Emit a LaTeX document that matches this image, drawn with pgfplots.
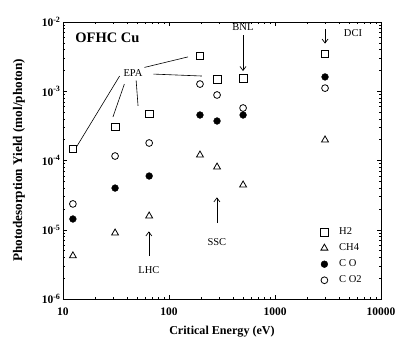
\documentclass[border=0pt]{standalone}
\usepackage{fontspec}
\setmainfont{Liberation Serif}
\usepackage{pgfplots}
\pgfplotsset{compat=1.18}
\usetikzlibrary{arrows.meta}
\begin{document}
\begin{tikzpicture}
\begin{axis}[
  xmode=log, ymode=log,
  scale only axis, width=318pt, height=277pt,
  xmin=10, xmax=10000, ymin=1e-6, ymax=1e-2,
  xtick={10,100,1000,10000},
  xticklabels={\textbf{10},\textbf{100},\textbf{1000},\textbf{10000}},
  ytick={1e-6,1e-5,1e-4,1e-3,1e-2},
  yticklabels={\textbf{10}\textsuperscript{\textbf{-6}},\textbf{10}\textsuperscript{\textbf{-5}},\textbf{10}\textsuperscript{\textbf{-4}},\textbf{10}\textsuperscript{\textbf{-3}},\textbf{10}\textsuperscript{\textbf{-2}}},
  tick label style={font=\fontsize{11.5}{13}\selectfont},
  xticklabel shift=5pt,
  yticklabel shift=-1pt,
  xlabel={Critical Energy (eV)},
  ylabel={Photodesorption Yield (mol/photon)},
  xlabel style={font=\fontsize{12.1}{14}\selectfont\bfseries},
  ylabel style={font=\fontsize{13.2}{15}\selectfont\bfseries},
  xlabel shift=4pt,
  ylabel shift=10pt,
  tick align=inside,
  major tick length=4pt, minor tick length=2pt,
  axis line style={line width=0.8pt},
  every tick/.style={black, line width=0.5pt},
  legend style={draw=none, fill=none, at={(rel axis cs:0.80,0.272)}, anchor=north west,
    font=\fontsize{10.5}{11}\selectfont, row sep=3.6pt,
    /tikz/every odd column/.append style={column sep=9pt}},
  legend cell align=left,
  clip=false,
]
\addplot[only marks, mark=square, mark size=3.8pt, mark options={fill=white, draw=black, line width=0.7pt}] coordinates {
 (12.4,1.47e-4) (31,3.05e-4) (65,4.7e-4) (196,3.23e-3) (284,1.50e-3) (500,1.55e-3) (2965,3.45e-3)};
\addlegendentry{H2}
\addplot[only marks, mark=triangle, mark size=4pt, mark options={fill=white, draw=black, line width=0.8pt}] coordinates {
 (12.4,4.2e-6) (31,8.97e-6) (65,1.58e-5) (196,1.2e-4) (284,8.05e-5) (500,4.43e-5) (2965,1.98e-4)};
\addlegendentry{CH4}
\addplot[only marks, mark=*, mark size=3.4pt, mark options={fill=black, draw=black}] coordinates {
 (12.4,1.43e-5) (31,4.0e-5) (65,5.97e-5) (196,4.54e-4) (284,3.72e-4) (500,4.54e-4) (2965,1.61e-3)};
\addlegendentry{C O}
\addplot[only marks, mark=o, mark size=3.4pt, mark options={fill=white, draw=black, line width=0.8pt}] coordinates {
 (12.4,2.36e-5) (31,1.16e-4) (65,1.79e-4) (196,1.27e-3) (284,8.83e-4) (500,5.73e-4) (2965,1.11e-3)};
\addlegendentry{C O2}
\coordinate (O) at (rel axis cs:0,0);
\node[font=\fontsize{14.5}{16}\selectfont\bfseries, anchor=west] at (rel axis cs:0.028,0.942) {OFHC Cu};
\node[font=\fontsize{10.5}{11}\selectfont] at (rel axis cs:0.220,0.816) {EPA};
\draw[line width=0.6pt] (rel axis cs:0.178,0.805) -- (rel axis cs:0.044,0.552);
\draw[line width=0.6pt] (rel axis cs:0.193,0.776) -- (rel axis cs:0.157,0.657);
\draw[line width=0.6pt] (rel axis cs:0.230,0.789) -- (rel axis cs:0.236,0.697);
\draw[line width=0.6pt] (rel axis cs:0.256,0.836) -- (rel axis cs:0.393,0.874);
\draw[line width=0.6pt] (rel axis cs:0.284,0.812) -- (rel axis cs:0.437,0.805);
\node[font=\fontsize{10.5}{11}\selectfont] at (rel axis cs:0.566,0.982) {BNL};
\draw[line width=0.7pt, -{Straight Barb[length=4pt,width=6pt]}] (rel axis cs:0.566,0.953) -- (rel axis cs:0.566,0.823);
\node[font=\fontsize{10.5}{11}\selectfont] at (rel axis cs:0.912,0.960) {DCI};
\draw[line width=0.7pt, -{Straight Barb[length=4pt,width=6pt]}] (rel axis cs:0.824,0.975) -- (rel axis cs:0.824,0.922);
\node[font=\fontsize{10.5}{11}\selectfont] at (rel axis cs:0.270,0.105) {LHC};
\draw[line width=0.7pt, -{Straight Barb[length=4pt,width=6pt]}] (rel axis cs:0.270,0.155) -- (rel axis cs:0.270,0.244);
\node[font=\fontsize{10.5}{11}\selectfont] at (rel axis cs:0.484,0.206) {SSC};
\draw[line width=0.7pt, -{Straight Barb[length=4pt,width=6pt]}] (rel axis cs:0.484,0.274) -- (rel axis cs:0.484,0.367);
\end{axis}
\pgfresetboundingbox
\path[use as bounding box] (O) ++(-63pt,-55pt) rectangle ++(413pt,354pt);
\end{tikzpicture}
\end{document}
